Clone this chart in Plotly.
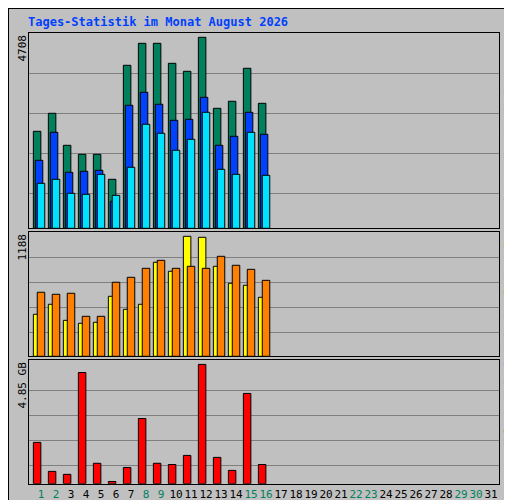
import plotly.graph_objects as go
from plotly.subplots import make_subplots

days = list(range(1, 17))
all_days = list(range(1, 32))
weekend_days = [1, 2, 8, 9, 15, 16, 22, 23, 29, 30]

anfragen = [2391, 2835, 2046, 1824, 1824, 1208, 4018, 4560, 4560, 4067, 3870, 4708, 2958, 3131, 3944, 3081]
dateien = [1676, 2366, 1380, 1405, 1430, 666, 3032, 3352, 3057, 2662, 2687, 3229, 2046, 2268, 2859, 2317]
seiten = [1109, 1208, 863, 838, 1331, 813, 1504, 2564, 2342, 1923, 2194, 2859, 1454, 1331, 2366, 1306]
besuche = [416, 515, 356, 327, 337, 594, 465, 515, 931, 842, 1188, 1178, 891, 723, 703, 584]
rechner = [634, 614, 624, 396, 396, 733, 782, 871, 950, 871, 891, 871, 990, 901, 861, 752]
volumen = [1.68, 0.50, 0.38, 4.52, 0.83, 0.09, 0.66, 2.65, 0.83, 0.78, 1.15, 4.85, 1.07, 0.54, 3.67, 0.78]

GREEN = "#00805C"
BLUE = "#0040FF"
CYAN = "#00E0FF"
YELLOW = "#FFFF00"
ORANGE = "#FF8000"
RED = "#FF0000"
BG = "#C0C0C0"
FONT = "DejaVu Sans Mono"

fig = make_subplots(rows=3, cols=1, shared_xaxes=True)

def bars(vals, color, offset, row):
    fig.add_trace(go.Bar(x=days, y=vals, width=0.5, offset=offset,
                         marker=dict(color=color, line=dict(color="black", width=1))),
                  row=row, col=1)

bars(anfragen, GREEN, -0.51, 1)
bars(dateien, BLUE, -0.38, 1)
bars(seiten, CYAN, -0.25, 1)
bars(besuche, YELLOW, -0.51, 2)
bars(rechner, ORANGE, -0.25, 2)
bars(volumen, RED, -0.51, 3)

# panel setup: (max value, max bar height px, panel height px, grid px above baseline)
panels = [
    (max(anfragen), 191, 195.3, [35, 75, 115, 155], [0.5594, 0.95]),
    (max(besuche), 120, 124.3, [24, 49, 74, 99], [0.3034, 0.552]),
    (max(volumen), 119.3, 123.7, [18.4, 43.4, 68.4, 93.4], [0.0486, 0.296]),
]
for i, (mx, hpx, ppx, grid, dom) in enumerate(panels, start=1):
    per_px = mx / hpx
    fig.update_yaxes(range=[0, ppx * per_px], domain=dom,
                     tickvals=[g * per_px for g in grid], showticklabels=False,
                     showgrid=True, gridcolor="#808080", gridwidth=1,
                     zeroline=False, showline=True, mirror=True,
                     linecolor="black", linewidth=1, ticks="", automargin=False,
                     row=i, col=1)

ticktext = [f'<span style="color:{"#00805C" if d in weekend_days else "black"}">{d}</span>'
            for d in all_days]
fig.update_xaxes(range=[0.2, 31.53], domain=[21 / 512, 491 / 512],
                 tickvals=all_days, ticktext=ticktext, tickangle=0,
                 tickfont=dict(family=FONT, size=11), showgrid=False,
                 showline=True, mirror=True, linecolor="black", linewidth=1,
                 ticks="", zeroline=False, automargin=False)
fig.update_xaxes(showticklabels=False, row=1, col=1)
fig.update_xaxes(showticklabels=False, row=2, col=1)

fig.update_layout(
    width=512, height=500, margin=dict(l=0, r=0, t=0, b=0, autoexpand=False),
    paper_bgcolor=BG, plot_bgcolor=BG, showlegend=False, barmode="overlay",
    font=dict(family=FONT, size=11, color="black"),
    title=dict(text="<b>Tages-Statistik im Monat August 2026</b>",
               x=20 / 512, xanchor="left", y=1 - 14 / 500, yanchor="middle",
               font=dict(family=FONT, size=12, color=BLUE)),
    shapes=[dict(type="rect", xref="paper", yref="paper", x0=0, y0=0, x1=1, y1=1,
                 line=dict(color="black", width=2))],
)

left_labels = [("4708", 0.95), ("1188", 0.552), ("4.85 GB", 0.296)]
for txt, y in left_labels:
    fig.add_annotation(text=txt, xref="paper", yref="paper", x=14 / 512, y=y,
                       xanchor="center", yanchor="top", textangle=-90,
                       showarrow=False, font=dict(family=FONT, size=11, color="black"))

sep = '<span style="color:#404040">/</span>'
right_parts = [("Volumen", RED), ("Vol. In", BLUE), ("Vol. Out", GREEN), ("Rechner", ORANGE),
               ("Besuche", YELLOW), ("Seiten", CYAN), ("Dateien", BLUE), ("Anfragen", GREEN)]
right_text = sep.join(f'<span style="color:{c}">{t}</span>' for t, c in right_parts)
fig.add_annotation(text=right_text, xref="paper", yref="paper", x=500 / 512, y=0.51,
                   xanchor="center", yanchor="middle", textangle=-90, showarrow=False,
                   font=dict(family=FONT, size=10))

fig.write_html("out.html")
